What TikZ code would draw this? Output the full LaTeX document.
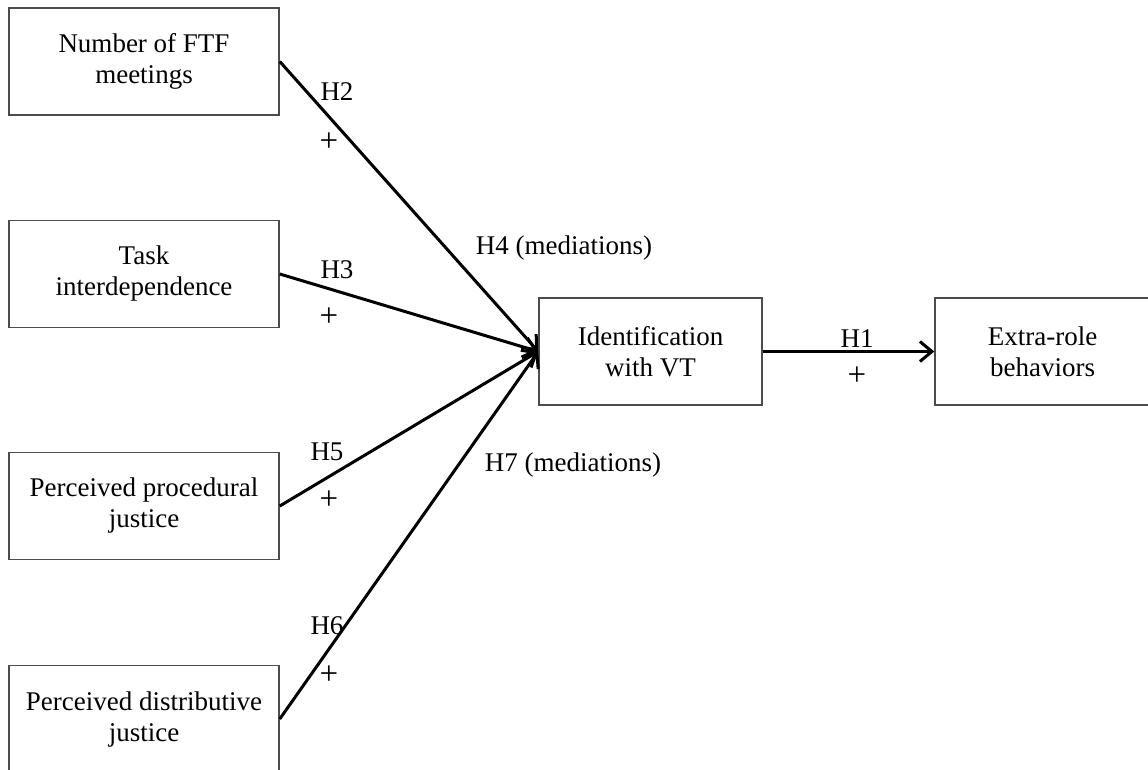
\documentclass[tikz,border=0pt]{standalone}
\usepackage{fontspec}
\setmainfont{Liberation Serif}
\usetikzlibrary{arrows.meta}
\begin{document}
\begin{tikzpicture}[x=1pt,y=-1pt,
  box/.style={draw=black!70, line width=1.5pt, minimum width=270pt, minimum height=107pt,
    align=center, inner sep=0pt, font=\fontsize{27}{31}\selectfont},
  lab/.style={anchor=base, inner sep=0pt, font=\fontsize{27}{31}\selectfont},
  plus/.style={anchor=base, inner sep=0pt, font=\fontsize{33}{36}\selectfont},
  conn/.style={line width=3pt, -{Straight Barb[length=12pt,width=20pt,line width=3pt]}}
]
\useasboundingbox (0,0) rectangle (1148,770);
\node[box] (b1) at (144,61.5) {Number of FTF\\meetings};
\node[box] (b2) at (144,274) {Task\\interdependence};
\node[box] (b3) at (144,506) {Perceived procedural\\justice};
\node[box] (b4) at (144,719) {Perceived distributive\\justice};
\node[box, minimum width=223pt] (id) at (650.5,351.5) {Identification\\with VT};
\node[box, minimum width=215pt] (ex) at (1042.5,351.5) {Extra-role\\behaviors};

\draw[conn] (b1.east) -- (id.west);
\draw[conn] (b2.east) -- (id.west);
\draw[conn] (b3.east) -- (id.west);
\draw[conn] (b4.east) -- (id.west);
\draw[conn] (id.east) -- (ex.west);

\node[lab] (h2) at (337,101) {H2};
\node[plus] (p2) at (329,152) {+};
\node[lab] (h3) at (337,278) {H3};
\node[plus] (p3) at (329,326) {+};
\node[lab] (h4) at (564,254) {H4 (mediations)};
\node[lab] (h5) at (327,460) {H5};
\node[plus] (p5) at (329,509) {+};
\node[lab] (h6) at (327,634) {H6};
\node[plus] (p6) at (329,684) {+};
\node[lab] (h7) at (573,471) {H7 (mediations)};
\node[lab] (h1) at (857,347) {H1};
\node[plus] (p1) at (857,385) {+};
\end{tikzpicture}
\end{document}
